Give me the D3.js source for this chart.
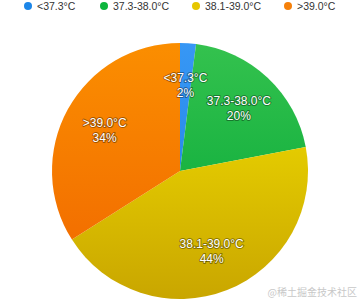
<!DOCTYPE html>
<html>
<head>
<meta charset="utf-8">
<script src="https://cdn.jsdelivr.net/npm/d3@7"></script>
<style>
  body { margin: 0; background: #fff; }
  svg { display: block; font-family: "Liberation Sans", Arial, sans-serif; }
</style>
</head>
<body>
<div id="chart"></div>
<script>
// data
var categories = ["<37.3°C", "37.3-38.0°C", "38.1-39.0°C", ">39.0°C"];
var values = [2, 20, 44, 34];
var colorsTop = ["#3797f5", "#34c24e", "#f6e400", "#fb8e00"];
var colorsBottom = ["#1a7fe0", "#00a535", "#c9a600", "#f06600"];
var legendColors = ["#1c86e8", "#0cb53c", "#e6c600", "#f5800a"];

var width = 360, height = 300;
var cx = 180, cy = 171, radius = 128;

var svg = d3.select("#chart")
  .append("svg")
    .attr("width", width)
    .attr("height", height);

// gradients, light at top, darker at bottom (coords relative to pie center)
var defs = svg.append("defs");
categories.forEach(function(c, i) {
  var grad = defs.append("linearGradient")
      .attr("id", "grad" + i)
      .attr("gradientUnits", "userSpaceOnUse")
      .attr("x1", 0).attr("y1", -radius)
      .attr("x2", 0).attr("y2", radius);
  grad.append("stop").attr("offset", "0%").attr("stop-color", colorsTop[i]);
  grad.append("stop").attr("offset", "100%").attr("stop-color", colorsBottom[i]);
});

var data = categories.map(function(c, i) { return {name: c, value: values[i], i: i}; });

var pie = d3.pie()
    .sort(null)
    .value(function(d) { return d.value; });

var arc = d3.arc().innerRadius(0).outerRadius(radius);
var labelArc = d3.arc().innerRadius(86).outerRadius(86);

var g = svg.append("g")
    .attr("transform", "translate(" + cx + "," + cy + ")");

// slices
g.selectAll("path")
  .data(pie(data))
  .enter().append("path")
    .attr("d", arc)
    .attr("fill", function(d) { return "url(#grad" + d.data.i + ")"; });

// labels
var labels = g.selectAll("text.lbl")
  .data(pie(data))
  .enter().append("text")
    .attr("class", "lbl")
    .attr("transform", function(d) { return "translate(" + labelArc.centroid(d) + ")"; })
    .attr("text-anchor", "middle")
    .style("font-size", "12px")
    .style("fill", "#fff")
    .style("stroke", "rgba(0,0,0,0.35)")
    .style("stroke-width", "2px")
    .style("paint-order", "stroke")
    .style("stroke-linejoin", "round");

labels.append("tspan")
    .attr("x", 0)
    .attr("y", -3)
    .text(function(d) { return d.data.name; });
labels.append("tspan")
    .attr("x", 0)
    .attr("y", 12)
    .text(function(d) { return d.data.value + "%"; });

// legend
var legendX = [28, 104, 196, 288];
var legend = svg.append("g").selectAll("g")
  .data(data)
  .enter().append("g")
    .attr("transform", function(d, i) { return "translate(" + legendX[i] + ",6)"; });

legend.append("circle")
    .attr("r", 4)
    .attr("fill", function(d, i) { return legendColors[i]; });

legend.append("text")
    .attr("x", 9)
    .attr("y", 4)
    .style("font-size", "10.5px")
    .style("fill", "#333")
    .text(function(d) { return d.name; });

// watermark
svg.append("text")
    .attr("x", 357)
    .attr("y", 296)
    .attr("text-anchor", "end")
    .style("font-family", "'Noto Sans CJK SC', sans-serif")
    .style("font-size", "10px")
    .style("fill", "#c8c8c8")
    .text("@稀土掘金技术社区");
</script>
</body>
</html>
